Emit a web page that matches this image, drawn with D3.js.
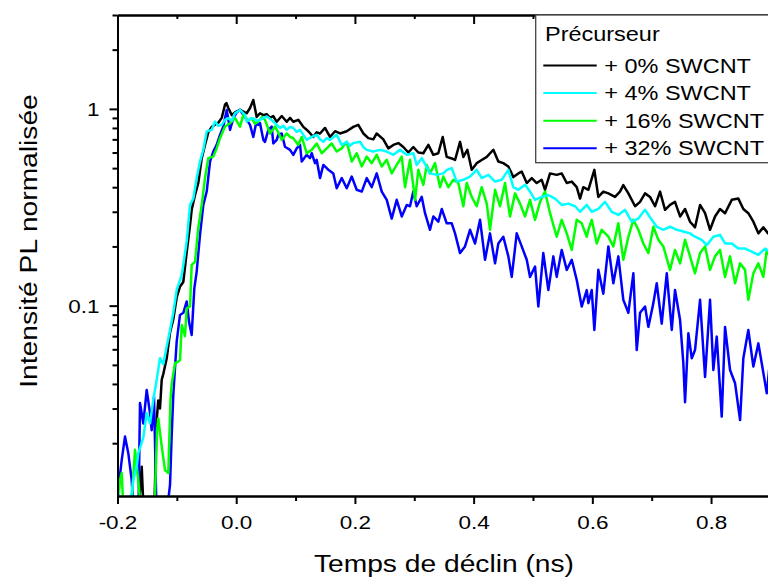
<!DOCTYPE html>
<html>
<head>
<meta charset="utf-8">
<script src="https://cdn.jsdelivr.net/npm/d3@7"></script>
<style>
body { margin: 0; background: #fff; }
</style>
</head>
<body>
<svg id="chart" width="768" height="578"></svg>
<script>
// decay curves: [time (ns), normalised PL]
let pl0 = [[-0.2,0.008],[-0.1655,0.008],[-0.1592,0.0152],[-0.1553,0.008],[-0.1385,0.008],[-0.134,0.0262],[-0.1313,0.033],[-0.1284,0.030],[-0.1255,0.042],[-0.1228,0.045],[-0.1171,0.054],[-0.1115,0.073],[-0.106,0.085],[-0.1003,0.110],[-0.0947,0.125],[-0.0891,0.132],[-0.0834,0.187],[-0.0778,0.257],[-0.075,0.307],[-0.0694,0.365],[-0.0639,0.42],[-0.0581,0.56],[-0.0526,0.656],[-0.047,0.76],[-0.0413,0.81],[-0.0357,0.83],[-0.0302,0.85],[-0.0244,0.90],[-0.0189,1.05],[-0.0164,1.07],[-0.0133,1.01],[-0.0076,0.93],[-0.002,0.96],[0.0064,0.99],[0.0177,0.95],[0.0233,1.01],[0.0288,1.11],[0.0345,0.91],[0.0401,0.95],[0.0457,0.93],[0.0514,0.94],[0.057,0.90],[0.0625,0.92],[0.0682,0.86],[0.0767,0.92],[0.0851,0.86],[0.0907,0.90],[0.0962,0.86],[0.1046,0.88],[0.1131,0.81],[0.1215,0.77],[0.1299,0.72],[0.1356,0.76],[0.1412,0.75],[0.1496,0.80],[0.158,0.72],[0.1665,0.77],[0.1749,0.75],[0.1862,0.77],[0.1973,0.81],[0.2057,0.83],[0.2142,0.75],[0.2226,0.71],[0.231,0.70],[0.2367,0.75],[0.2479,0.70],[0.2563,0.63],[0.2647,0.656],[0.2731,0.67],[0.2816,0.64],[0.29,0.60],[0.2984,0.64],[0.3068,0.60],[0.3153,0.595],[0.3237,0.656],[0.3321,0.584],[0.3405,0.595],[0.3479,0.72],[0.3547,0.57],[0.3631,0.56],[0.3687,0.55],[0.3771,0.68],[0.3827,0.57],[0.3894,0.62],[0.3968,0.49],[0.4052,0.53],[0.4136,0.55],[0.4221,0.57],[0.4332,0.62],[0.4416,0.54],[0.45,0.53],[0.4585,0.51],[0.4669,0.45],[0.4753,0.47],[0.481,0.48],[0.4895,0.42],[0.4979,0.445],[0.5063,0.42],[0.5147,0.436],[0.5203,0.388],[0.5287,0.47],[0.54,0.462],[0.5484,0.47],[0.5569,0.42],[0.5653,0.427],[0.5737,0.40],[0.5793,0.35],[0.5848,0.40],[0.5933,0.388],[0.6034,0.49],[0.6101,0.357],[0.6185,0.38],[0.627,0.372],[0.6382,0.357],[0.6466,0.38],[0.6522,0.41],[0.6607,0.372],[0.672,0.32],[0.6804,0.337],[0.6888,0.372],[0.6972,0.357],[0.7056,0.32],[0.7141,0.38],[0.7225,0.307],[0.7309,0.325],[0.7393,0.337],[0.7478,0.284],[0.7562,0.31],[0.7646,0.267],[0.773,0.25],[0.7815,0.325],[0.7899,0.295],[0.7983,0.243],[0.8067,0.284],[0.8151,0.31],[0.8236,0.295],[0.8349,0.345],[0.846,0.35],[0.8544,0.31],[0.8628,0.295],[0.8713,0.267],[0.8797,0.233],[0.8881,0.25],[0.896,0.233],[0.901,0.23]];

let pl4 = [[-0.1992,0.0116],[-0.1941,0.009],[-0.1823,0.009],[-0.1761,0.0112],[-0.1734,0.013],[-0.1676,0.0152],[-0.165,0.0178],[-0.1604,0.0196],[-0.1565,0.0214],[-0.1508,0.0284],[-0.1452,0.0252],[-0.1397,0.0332],[-0.134,0.0419],[-0.1284,0.054],[-0.1228,0.0505],[-0.1171,0.062],[-0.1115,0.0752],[-0.106,0.092],[-0.1003,0.120],[-0.0976,0.127],[-0.0918,0.143],[-0.0891,0.161],[-0.0834,0.212],[-0.0778,0.325],[-0.0723,0.35],[-0.0666,0.445],[-0.061,0.54],[-0.0554,0.62],[-0.0497,0.767],[-0.0413,0.782],[-0.0357,0.862],[-0.0302,0.82],[-0.0244,0.829],[-0.0189,0.879],[-0.0133,0.897],[-0.0076,0.87],[-0.002,0.95],[0.0064,0.988],[0.0148,0.932],[0.0177,0.862],[0.0233,0.89],[0.0288,0.897],[0.0345,0.87],[0.0401,0.879],[0.0457,0.90],[0.0514,0.914],[0.057,0.89],[0.0625,0.862],[0.0682,0.829],[0.0738,0.80],[0.0794,0.82],[0.0851,0.782],[0.0907,0.81],[0.0962,0.80],[0.1019,0.764],[0.1075,0.782],[0.1131,0.738],[0.1188,0.696],[0.1272,0.72],[0.1356,0.738],[0.1412,0.70],[0.1468,0.68],[0.1525,0.71],[0.158,0.696],[0.1693,0.738],[0.1778,0.656],[0.1862,0.68],[0.1917,0.65],[0.1973,0.67],[0.2086,0.68],[0.2142,0.64],[0.2199,0.619],[0.231,0.607],[0.2423,0.619],[0.2536,0.607],[0.2647,0.584],[0.276,0.619],[0.2873,0.584],[0.2984,0.595],[0.3041,0.519],[0.3126,0.562],[0.3198,0.513],[0.3265,0.47],[0.3378,0.462],[0.3489,0.47],[0.3552,0.49],[0.3631,0.50],[0.3715,0.427],[0.3827,0.436],[0.3939,0.453],[0.4052,0.49],[0.4136,0.445],[0.4248,0.462],[0.4361,0.427],[0.4473,0.436],[0.4585,0.49],[0.4669,0.40],[0.4753,0.388],[0.4866,0.411],[0.495,0.38],[0.5035,0.345],[0.5147,0.357],[0.5259,0.365],[0.5371,0.35],[0.5484,0.325],[0.5596,0.33],[0.5709,0.32],[0.5793,0.30],[0.5906,0.325],[0.599,0.30],[0.6101,0.31],[0.6214,0.337],[0.6327,0.30],[0.6438,0.289],[0.6551,0.307],[0.6664,0.267],[0.6775,0.277],[0.6888,0.307],[0.7001,0.273],[0.7085,0.252],[0.7196,0.243],[0.7309,0.252],[0.7422,0.243],[0.7533,0.238],[0.7646,0.233],[0.773,0.224],[0.7843,0.216],[0.7928,0.203],[0.8039,0.224],[0.8151,0.229],[0.8236,0.207],[0.8349,0.207],[0.846,0.195],[0.8573,0.195],[0.8686,0.188],[0.8797,0.181],[0.891,0.195],[0.9011,0.186]];

let pl16 = [[-0.2,0.009],[-0.1958,0.013],[-0.1929,0.0141],[-0.1899,0.009],[-0.1773,0.009],[-0.1705,0.0185],[-0.165,0.013],[-0.1604,0.009],[-0.1377,0.009],[-0.1334,0.0233],[-0.1313,0.0267],[-0.1255,0.0193],[-0.12,0.0146],[-0.1144,0.0141],[-0.1107,0.0332],[-0.1087,0.04],[-0.1031,0.051],[-0.0976,0.052],[-0.0947,0.053],[-0.0918,0.0798],[-0.0863,0.070],[-0.0834,0.097],[-0.0778,0.099],[-0.075,0.161],[-0.0694,0.167],[-0.0639,0.248],[-0.0581,0.325],[-0.0526,0.445],[-0.047,0.562],[-0.0386,0.572],[-0.0329,0.63],[-0.0273,0.71],[-0.0189,0.813],[-0.0104,0.846],[-0.002,0.897],[0.0064,0.813],[0.012,0.932],[0.0148,0.914],[0.0199,0.87],[0.0261,0.897],[0.0317,0.84],[0.0372,0.862],[0.0435,0.91],[0.0485,0.879],[0.057,0.75],[0.0654,0.813],[0.0704,0.764],[0.0767,0.696],[0.0851,0.75],[0.0907,0.72],[0.0962,0.71],[0.1046,0.656],[0.1104,0.72],[0.1188,0.595],[0.1272,0.619],[0.1356,0.667],[0.1441,0.595],[0.1525,0.63],[0.1609,0.667],[0.1693,0.607],[0.1778,0.63],[0.1862,0.68],[0.1946,0.54],[0.203,0.595],[0.2115,0.51],[0.2199,0.572],[0.2283,0.53],[0.2367,0.584],[0.2452,0.51],[0.2536,0.551],[0.262,0.47],[0.2704,0.519],[0.2789,0.572],[0.2844,0.40],[0.2928,0.551],[0.3013,0.345],[0.3068,0.49],[0.3153,0.411],[0.321,0.519],[0.3265,0.47],[0.335,0.53],[0.3434,0.40],[0.3489,0.453],[0.3574,0.40],[0.3658,0.436],[0.3742,0.42],[0.3827,0.32],[0.3884,0.42],[0.3968,0.357],[0.4052,0.32],[0.4136,0.40],[0.4221,0.33],[0.4276,0.243],[0.4361,0.388],[0.4445,0.32],[0.4529,0.42],[0.4613,0.284],[0.4698,0.372],[0.4782,0.33],[0.4866,0.284],[0.495,0.345],[0.5035,0.273],[0.5119,0.337],[0.5203,0.38],[0.5287,0.295],[0.54,0.224],[0.5484,0.273],[0.5569,0.233],[0.5653,0.192],[0.5737,0.273],[0.5821,0.262],[0.5906,0.224],[0.5933,0.243],[0.599,0.273],[0.6074,0.207],[0.6158,0.243],[0.627,0.224],[0.6354,0.20],[0.6438,0.262],[0.6522,0.171],[0.6607,0.224],[0.6691,0.273],[0.6775,0.243],[0.6859,0.207],[0.6944,0.185],[0.7028,0.252],[0.7112,0.216],[0.7196,0.20],[0.7309,0.152],[0.7393,0.192],[0.7478,0.164],[0.7562,0.216],[0.7646,0.178],[0.773,0.146],[0.7815,0.185],[0.7899,0.20],[0.7983,0.152],[0.8067,0.178],[0.8151,0.192],[0.8236,0.14],[0.832,0.178],[0.8405,0.13],[0.8489,0.164],[0.8573,0.152],[0.8628,0.107],[0.8713,0.146],[0.8797,0.164],[0.8881,0.14],[0.8939,0.192],[0.9011,0.171]];

let pl32 = [[-0.2,0.009],[-0.1987,0.0116],[-0.1929,0.0164],[-0.1874,0.0216],[-0.1818,0.0178],[-0.1761,0.013],[-0.173,0.009],[-0.1646,0.009],[-0.1621,0.032],[-0.1565,0.0252],[-0.1508,0.0373],[-0.1452,0.0284],[-0.1424,0.0233],[-0.1385,0.0345],[-0.1343,0.009],[-0.1166,0.009],[-0.1115,0.0123],[-0.109,0.0208],[-0.106,0.0352],[-0.1003,0.0656],[-0.0947,0.0897],[-0.0891,0.092],[-0.0834,0.105],[-0.0795,0.0828],[-0.075,0.071],[-0.0706,0.122],[-0.0666,0.149],[-0.061,0.229],[-0.0554,0.325],[-0.0497,0.38],[-0.0441,0.54],[-0.0386,0.607],[-0.0329,0.656],[-0.0273,0.738],[-0.0217,0.813],[-0.016,0.988],[-0.0104,0.782],[-0.0049,0.897],[0.0008,0.96],[0.0064,0.988],[0.012,0.932],[0.0177,0.879],[0.0233,0.829],[0.0288,0.72],[0.0334,0.84],[0.0372,0.829],[0.0401,0.846],[0.0457,0.696],[0.0485,0.68],[0.0541,0.782],[0.0598,0.813],[0.0625,0.667],[0.0682,0.696],[0.0709,0.738],[0.0767,0.75],[0.0822,0.642],[0.0907,0.619],[0.0962,0.584],[0.1019,0.63],[0.1075,0.656],[0.1104,0.54],[0.1188,0.584],[0.1243,0.562],[0.1272,0.595],[0.1328,0.53],[0.1356,0.551],[0.1412,0.445],[0.1468,0.519],[0.1525,0.50],[0.1552,0.49],[0.1636,0.47],[0.1693,0.395],[0.1778,0.445],[0.1862,0.395],[0.1946,0.453],[0.203,0.388],[0.2115,0.38],[0.2199,0.445],[0.2283,0.40],[0.2367,0.47],[0.2452,0.38],[0.2536,0.345],[0.262,0.277],[0.2704,0.345],[0.2789,0.284],[0.2873,0.325],[0.2928,0.32],[0.2984,0.38],[0.3041,0.32],[0.3126,0.357],[0.3181,0.295],[0.3265,0.243],[0.3321,0.284],[0.3405,0.267],[0.3463,0.31],[0.3547,0.262],[0.3631,0.262],[0.3687,0.233],[0.3771,0.185],[0.3855,0.20],[0.3939,0.243],[0.4024,0.207],[0.4108,0.273],[0.4192,0.171],[0.4276,0.233],[0.4361,0.164],[0.4416,0.207],[0.45,0.224],[0.4585,0.178],[0.4642,0.14],[0.4726,0.233],[0.481,0.20],[0.4895,0.171],[0.495,0.14],[0.5035,0.158],[0.509,0.099],[0.5174,0.185],[0.5259,0.12],[0.5343,0.178],[0.54,0.14],[0.5484,0.192],[0.5569,0.152],[0.5653,0.171],[0.5737,0.135],[0.5821,0.099],[0.5906,0.12],[0.5933,0.103],[0.599,0.12],[0.6034,0.0752],[0.6101,0.152],[0.6185,0.115],[0.627,0.20],[0.6354,0.13],[0.6438,0.178],[0.6522,0.107],[0.6607,0.092],[0.6691,0.146],[0.6748,0.0595],[0.6804,0.092],[0.6888,0.099],[0.6944,0.078],[0.7028,0.103],[0.7085,0.13],[0.7169,0.081],[0.7254,0.146],[0.7338,0.0752],[0.7393,0.12],[0.7478,0.0846],[0.7533,0.051],[0.7562,0.0323],[0.7618,0.0723],[0.7675,0.054],[0.773,0.0595],[0.7815,0.107],[0.7899,0.0434],[0.7983,0.107],[0.8039,0.0471],[0.8096,0.0696],[0.818,0.0273],[0.8236,0.078],[0.832,0.0471],[0.8405,0.0403],[0.8489,0.0262],[0.8544,0.054],[0.8628,0.0752],[0.8713,0.049],[0.8797,0.0643],[0.8854,0.051],[0.8939,0.0359],[0.9011,0.0595]];

let legendTitle = 'Précurseur';
let labels = ['+ 0% SWCNT', '+ 4% SWCNT', '+ 16% SWCNT', '+ 32% SWCNT'];
let colors = ['#000000', '#00ffff', '#00ff00', '#0000ff'];
let xMajor = [-0.2, 0, 0.2, 0.4, 0.6, 0.8];
let xMinor = [-0.1, 0.1, 0.3, 0.5, 0.7, 0.9];
let yMajor = [0.1, 1];
let yMinor = [0.02, 0.03, 0.04, 0.05, 0.06, 0.07, 0.08, 0.09, 0.2, 0.3, 0.4, 0.5, 0.6, 0.7, 0.8, 0.9, 2, 3];

let fontFamily = '"Liberation Sans", Arial, sans-serif';
let stretch = 1.21;   // text in the picture is drawn wider than Arial

function draw_main() {
    let padding = {left: 117.5, right: 770.4, top: 15, bottom: 496};
    let svg = d3.select('#chart');

    let x = d3.scaleLinear().domain([-0.2, 0.9]).range([padding.left, padding.right]);
    let y = d3.scaleLog().domain([0.01078, 3]).range([padding.bottom, padding.top]);

    svg.append('defs').append('clipPath').attr('id', 'plotclip')
        .append('rect')
        .attr('x', padding.left).attr('y', padding.top)
        .attr('width', padding.right - padding.left)
        .attr('height', padding.bottom - padding.top);

    // curves: draw order black, blue, green, cyan
    let line = d3.line().x(d => x(d[0])).y(d => y(d[1]));
    let curves = [pl0, pl4, pl16, pl32];
    let order = [0, 3, 2, 1];
    let g = svg.append('g').attr('clip-path', 'url(#plotclip)');
    order.forEach(i => {
        g.append('path')
            .attr('d', line(curves[i]))
            .attr('fill', 'none')
            .attr('stroke', colors[i])
            .attr('stroke-width', 2.5)
            .attr('stroke-linejoin', 'round');
    });

    let fmtX = d => (Math.abs(d) < 1e-9 ? 0 : d).toFixed(1);

    // bottom axis
    let bx = svg.append('g').attr('transform', `translate(0, ${padding.bottom})`);
    bx.append('g').call(d3.axisBottom(x).tickValues(xMinor).tickSize(5).tickSizeOuter(0).tickFormat(''));
    bx.append('g').call(d3.axisBottom(x).tickValues(xMajor).tickSize(8).tickSizeOuter(0).tickFormat(fmtX));
    bx.selectAll('text')
        .attr('font-family', fontFamily).attr('font-size', 18.6)
        .attr('y', 33).attr('dy', null)
        .attr('transform', `scale(${stretch},1)`);

    // top axis, ticks inward
    let tx = svg.append('g').attr('transform', `translate(0, ${padding.top})`);
    tx.append('g').call(d3.axisTop(x).tickValues(xMinor).tickSize(-4).tickSizeOuter(0).tickFormat(''));
    tx.append('g').call(d3.axisTop(x).tickValues(xMajor).tickSize(-9).tickSizeOuter(0).tickFormat(''));

    // left axis
    let ly = svg.append('g').attr('transform', `translate(${padding.left}, 0)`);
    ly.append('g').call(d3.axisLeft(y).tickValues(yMinor).tickSize(5).tickSizeOuter(0).tickFormat(''));
    ly.append('g').call(d3.axisLeft(y).tickValues(yMajor).tickSize(8).tickSizeOuter(0).tickFormat(d => d));
    ly.selectAll('text')
        .attr('font-family', fontFamily).attr('font-size', 18.6)
        .attr('x', -18 / stretch).attr('y', 6.7).attr('dy', null)
        .attr('transform', `scale(${stretch},1)`);

    // right axis (sits just past the window edge)
    svg.append('g').attr('transform', `translate(${padding.right}, 0)`)
        .call(d3.axisRight(y).tickValues([]).tickSizeOuter(0));

    svg.selectAll('.domain').attr('stroke', '#000').attr('stroke-width', 2);
    svg.selectAll('.tick line').attr('stroke', '#000').attr('stroke-width', 2);

    // axis titles
    svg.append('text')
        .attr('transform', `translate(${(padding.left + padding.right) / 2}, 572) scale(${stretch},1)`)
        .attr('text-anchor', 'middle')
        .attr('font-family', fontFamily).attr('font-size', 23.3)
        .text('Temps de déclin (ns)');
    svg.append('text')
        .attr('transform', `translate(36.7, 241) rotate(-90) scale(${stretch},1)`)
        .attr('text-anchor', 'middle')
        .attr('font-family', fontFamily).attr('font-size', 23.3)
        .text('Intensité PL normalisée');

    // legend
    let lg = svg.append('g');
    lg.append('rect')
        .attr('x', 535.7).attr('y', 15)
        .attr('width', 250).attr('height', 147.7)
        .attr('fill', '#fff').attr('stroke', '#444').attr('stroke-width', 1.3);
    lg.append('text')
        .attr('transform', `translate(545, 40.7) scale(${stretch},1)`)
        .attr('font-family', fontFamily).attr('font-size', 19.4)
        .text(legendTitle);
    labels.forEach((lab, i) => {
        let ly0 = 65.5 + i * 27.6;
        lg.append('line')
            .attr('x1', 543.3).attr('x2', 596.7)
            .attr('y1', ly0).attr('y2', ly0)
            .attr('stroke', colors[i]).attr('stroke-width', 2);
        lg.append('text')
            .attr('transform', `translate(604.3, ${ly0 + 7}) scale(${stretch},1)`)
            .attr('font-family', fontFamily).attr('font-size', 19.4)
            .text(lab);
    });
}

draw_main();
</script>
</body>
</html>
